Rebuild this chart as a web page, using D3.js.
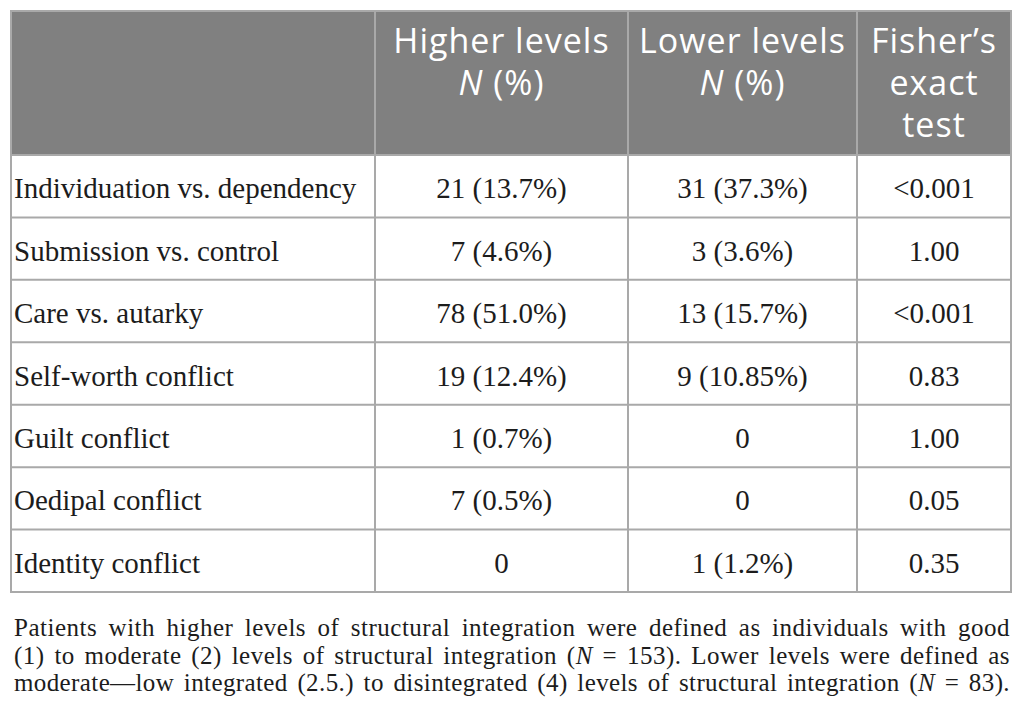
<!DOCTYPE html>
<html>
  <head>
    <meta charset="utf-8">
    <title>Conflict table</title>
    <style>
      body {
        margin: 0px;
        overflow: hidden;
        background: #fff;
      }
    </style>
    <script src="https://d3js.org/d3.v7.min.js"></script>
  </head>
  <body>

    <svg width="1024" height="727"></svg>

    <script>
      // table content
      const rowLabels = [
        'Individuation vs. dependency',
        'Submission vs. control',
        'Care vs. autarky',
        'Self-worth conflict',
        'Guilt conflict',
        'Oedipal conflict',
        'Identity conflict'
      ];
      const higherLevels = ['21 (13.7%)', '7 (4.6%)', '78 (51.0%)', '19 (12.4%)', '1 (0.7%)', '7 (0.5%)', '0'];
      const lowerLevels = ['31 (37.3%)', '3 (3.6%)', '13 (15.7%)', '9 (10.85%)', '0', '0', '1 (1.2%)'];
      const fisherTest = ['<0.001', '1.00', '<0.001', '0.83', '1.00', '0.05', '0.35'];
      const headers = [[], ['Higher levels', 'N (%)'], ['Lower levels', 'N (%)'], ['Fisher’s', 'exact', 'test']];
      const footnote = [
        'Patients with higher levels of structural integration were defined as individuals with good',
        '(1) to moderate (2) levels of structural integration (N = 153). Lower levels were defined as',
        'moderate—low integrated (2.5.) to disintegrated (4) levels of structural integration (N = 83).'
      ];

      const svg = d3.select('svg');

      const colEdges = [11, 375, 628, 857, 1011];
      const tableTop = 11, headerBottom = 155, tableBottom = 592;
      const border = '#a9a9a9';
      const serif = '"Liberation Serif", "Times New Roman", serif';
      const sans = '"Open Sans", "Noto Sans", sans-serif';

      const y = d3.scaleBand()
        .domain(rowLabels)
        .range([headerBottom, tableBottom]);

      const columns = [rowLabels, higherLevels, lowerLevels, fisherTest];

      // header background
      svg.append('rect')
        .attr('x', colEdges[0]).attr('y', tableTop)
        .attr('width', colEdges[4] - colEdges[0])
        .attr('height', headerBottom - tableTop)
        .attr('fill', '#808080');

      // header text
      const hg = svg.append('g')
        .attr('font-family', sans)
        .attr('font-size', 34)
        .attr('letter-spacing', 1)
        .attr('fill', '#fff')
        .attr('text-anchor', 'middle');

      headers.forEach((lines, c) => {
        const cx = (colEdges[c] + colEdges[c + 1]) / 2;
        lines.forEach((line, i) => {
          const t = hg.append('text')
            .attr('x', cx)
            .attr('y', 53 + i * 42);
          if (line.startsWith('N ')) {
            t.append('tspan').attr('font-style', 'italic').text('N');
            t.append('tspan').text(line.slice(1));
          } else {
            t.text(line);
          }
        });
      });

      // body cells
      const bg = svg.append('g')
        .attr('font-family', serif)
        .attr('font-size', 29)
        .attr('fill', '#1c1c1c');

      columns.forEach((values, c) => {
        const cx = (colEdges[c] + colEdges[c + 1]) / 2;
        bg.selectAll(null)
          .data(values)
          .join('text')
            .attr('x', c === 0 ? colEdges[0] + 3 : cx)
            .attr('y', (d, i) => y(rowLabels[i]) + y.bandwidth() / 2 + 12)
            .attr('text-anchor', c === 0 ? 'start' : 'middle')
            .text(d => d);
      });

      // grid lines
      const lg = svg.append('g')
        .attr('stroke-width', 2)
        .attr('fill', 'none');

      lg.selectAll('line.h')
        .data(rowLabels.slice(1))
        .join('line')
          .attr('x1', colEdges[0]).attr('x2', colEdges[4])
          .attr('y1', d => y(d)).attr('y2', d => y(d))
          .attr('stroke', border);

      lg.append('line')
        .attr('x1', colEdges[0]).attr('x2', colEdges[4])
        .attr('y1', headerBottom).attr('y2', headerBottom)
        .attr('stroke', border);

      lg.selectAll('line.v')
        .data(colEdges.slice(1, 4))
        .join('line')
          .attr('x1', d => d).attr('x2', d => d)
          .attr('y1', tableTop).attr('y2', tableBottom)
          .attr('stroke', border);

      lg.append('rect')
        .attr('x', colEdges[0]).attr('y', tableTop)
        .attr('width', colEdges[4] - colEdges[0])
        .attr('height', tableBottom - tableTop)
        .attr('stroke', border);

      // footnote, justified line by line
      const fg = svg.append('g')
        .attr('font-family', serif)
        .attr('font-size', 25)
        .attr('fill', '#1c1c1c');

      const left = 14, right = 1010;
      footnote.forEach((line, i) => {
        const t = fg.append('text')
          .attr('x', left)
          .attr('y', 636 + i * 27.5)
          .attr('xml:space', 'preserve');
        line.split(/(N)/).forEach(part => {
          if (part === 'N') t.append('tspan').attr('font-style', 'italic').text('N');
          else if (part) t.append('tspan').text(part);
        });
        const w = t.node().getComputedTextLength();
        const extra = right - left - w;
        const spaces = (line.match(/ /g) || []).length;
        // part of the slack goes into the letters, the rest between words
        const ls = Math.min(extra * 0.5 / line.length, 0.5);
        t.attr('letter-spacing', ls);
        const w2 = t.node().getComputedTextLength();
        t.attr('word-spacing', (right - left - w2) / spaces);
      });
    </script>
  </body>
</html>
